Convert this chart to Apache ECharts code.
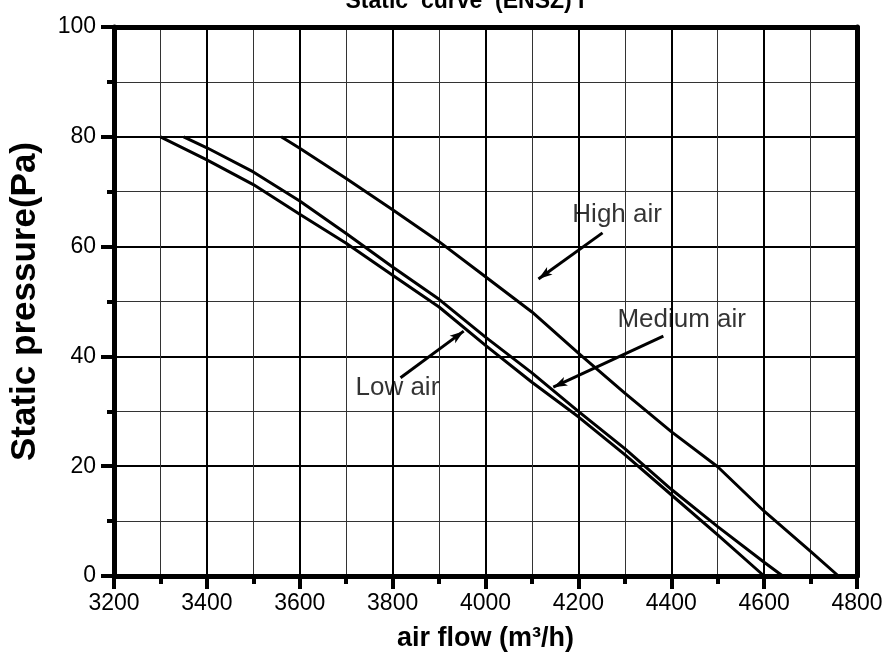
<!DOCTYPE html>
<html>
<head>
<meta charset="utf-8">
<script src="https://cdn.jsdelivr.net/npm/echarts@6/dist/echarts.min.js"></script>
<style>
  html, body { margin: 0; padding: 0; background: #fff; }
  #chart { width: 888px; height: 657px; }
</style>
</head>
<body>
<div id="chart"></div>
<script>
// Fan static-pressure curves: air flow (m³/h) vs static pressure (Pa)
const lowFlow = [3300, 3400, 3500, 3600, 3700, 3800, 3900, 4000, 4100, 4200, 4300, 4400, 4500, 4600];
const lowPressure = [80, 75.8, 71.3, 65.9, 60.6, 54.8, 49.0, 42.0, 35.3, 29.0, 22.1, 14.8, 7.5, 0];

const mediumFlow = [3350, 3400, 3500, 3600, 3700, 3800, 3900, 4000, 4100, 4200, 4300, 4400, 4500, 4600, 4640];
const mediumPressure = [80, 78.0, 73.6, 68.3, 62.4, 56.3, 50.4, 43.5, 37.0, 30.0, 23.2, 15.8, 9.0, 2.5, 0];

const highFlow = [3560, 3600, 3700, 3800, 3900, 4000, 4100, 4200, 4300, 4400, 4500, 4600, 4700, 4760];
const highPressure = [80, 77.9, 72.4, 66.7, 60.9, 54.5, 48.1, 40.6, 33.3, 26.3, 19.9, 11.8, 4.5, 0];

// Curve annotations: text anchor and arrow (tail -> head) in data units
const labelText = ['High air', 'Medium air', 'Low air'];
const labelFlow = [4187, 4284, 3720];
const labelPressure = [65.8, 46.6, 34.2];
const arrowTailFlow = [4252, 4383, 3817];
const arrowTailPressure = [62.5, 43.7, 36.1];
const arrowHeadFlow = [4114, 4146, 3953];
const arrowHeadPressure = [54.1, 34.4, 44.6];

const FONT = "'Liberation Sans', Arial, sans-serif";

const pairs = (xs, ys) => xs.map((x, i) => [x, ys[i]]);
const plain = v => String(v);

const curveStyle = {
  type: 'line',
  showSymbol: false,
  symbol: 'none',
  smooth: false,
  lineStyle: { color: '#000', width: 3 },
  silent: true
};

const arrows = arrowTailFlow.map((x, i) => [
  { coord: [x, arrowTailPressure[i]], symbol: 'none' },
  { coord: [arrowHeadFlow[i], arrowHeadPressure[i]], symbol: 'arrow', symbolSize: [7, 14] }
]);

const chart = echarts.init(document.getElementById('chart'), null, { renderer: 'canvas' });

chart.setOption({
  animation: false,
  backgroundColor: '#fff',
  textStyle: { fontFamily: FONT },
  title: {
    text: 'Static  curve  (ENSZ) I',
    left: 460,
    top: -15,
    textAlign: 'center',
    textStyle: { fontFamily: FONT, fontSize: 23, fontWeight: 'bold', color: '#000' }
  },
  grid: { left: 113, right: 31, top: 27, bottom: 81, containLabel: false },
  xAxis: [
    {
      type: 'value',
      position: 'bottom',
      min: 3200,
      max: 4800,
      interval: 200,
      name: 'air flow (m³/h)',
      nameLocation: 'middle',
      nameGap: 49,
      nameTextStyle: { fontFamily: FONT, fontSize: 27, fontWeight: 'bold', color: '#000' },
      axisLine: { onZero: false, lineStyle: { color: '#000', width: 5 } },
      axisTick: { show: true, inside: false, length: 13, lineStyle: { color: '#000', width: 4 } },
      minorTick: { show: true, splitNumber: 2, length: 8, lineStyle: { color: '#000', width: 4 } },
      axisLabel: { fontFamily: FONT, fontSize: 23, color: '#000', margin: 16, formatter: plain },
      splitLine: { show: true, lineStyle: { color: '#000', width: 2 } },
      minorSplitLine: { show: true, lineStyle: { color: '#333', width: 1 } }
    },
    {
      type: 'value',
      position: 'top',
      min: 3200,
      max: 4800,
      axisLine: { onZero: false, lineStyle: { color: '#000', width: 5 } },
      axisTick: { show: false },
      axisLabel: { show: false },
      splitLine: { show: false }
    }
  ],
  yAxis: [
    {
      type: 'value',
      position: 'left',
      min: 0,
      max: 100,
      interval: 20,
      name: 'Static pressure(Pa)',
      nameLocation: 'middle',
      nameGap: 71,
      nameTextStyle: { fontFamily: FONT, fontSize: 35, fontWeight: 'bold', color: '#000' },
      axisLine: { onZero: false, lineStyle: { color: '#000', width: 5 } },
      axisTick: { show: true, inside: false, length: 13, lineStyle: { color: '#000', width: 4 } },
      minorTick: { show: true, splitNumber: 2, length: 7, lineStyle: { color: '#000', width: 4 } },
      axisLabel: { fontFamily: FONT, fontSize: 23, color: '#000', margin: 18, formatter: plain },
      splitLine: { show: true, lineStyle: { color: '#000', width: 2 } },
      minorSplitLine: { show: true, lineStyle: { color: '#333', width: 1 } }
    },
    {
      type: 'value',
      position: 'right',
      min: 0,
      max: 100,
      axisLine: { onZero: false, lineStyle: { color: '#000', width: 5 } },
      axisTick: { show: false },
      axisLabel: { show: false },
      splitLine: { show: false }
    }
  ],
  series: [
    Object.assign({ name: 'Low air', data: pairs(lowFlow, lowPressure) }, curveStyle),
    Object.assign({ name: 'Medium air', data: pairs(mediumFlow, mediumPressure) }, curveStyle),
    Object.assign({
      name: 'High air',
      data: pairs(highFlow, highPressure),
      markLine: {
        silent: true,
        animation: false,
        label: { show: false },
        lineStyle: { color: '#000', width: 3, type: 'solid' },
        emphasis: { disabled: true },
        data: arrows
      }
    }, curveStyle),
    {
      name: 'labels',
      type: 'scatter',
      symbolSize: 0,
      silent: true,
      data: labelText.map((t, i) => [labelFlow[i], labelPressure[i], t]),
      label: {
        show: true,
        position: 'right',
        distance: 0,
        formatter: p => p.data[2],
        fontFamily: FONT,
        fontSize: 26,
        color: '#000'
      }
    }
  ]
});
</script>
</body>
</html>
